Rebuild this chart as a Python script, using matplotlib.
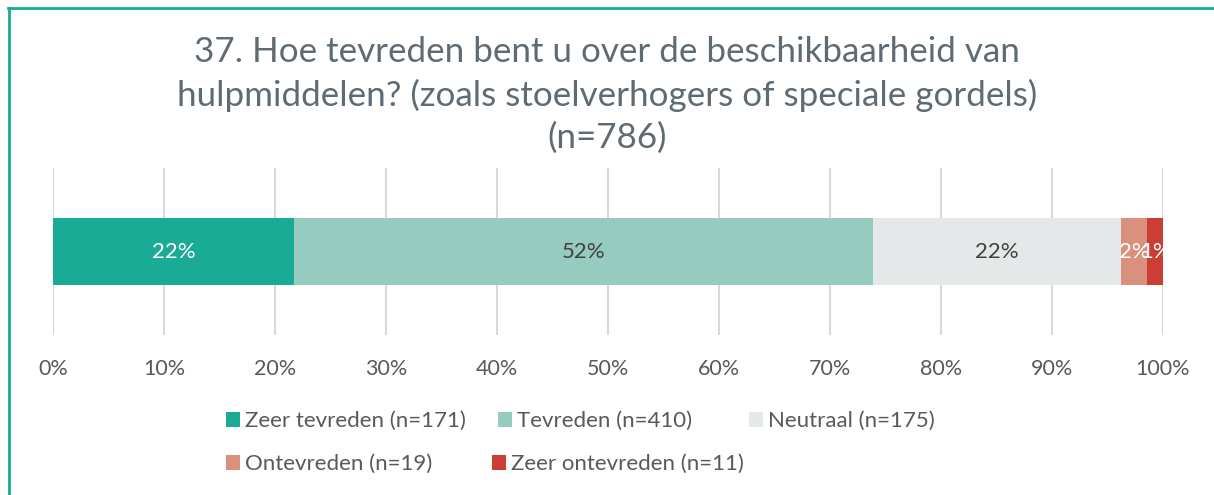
import matplotlib
matplotlib.use("Agg")
import matplotlib.pyplot as plt
from matplotlib.patches import Patch
from matplotlib.lines import Line2D

# ---- data
categories = ["Zeer tevreden", "Tevreden", "Neutraal", "Ontevreden", "Zeer ontevreden"]
counts     = [171, 410, 175, 19, 11]
colors     = ["#1AAB97", "#96CBC0", "#E5E8E8", "#D9917D", "#CC3D33"]
lbl_colors = ["white", "#404040", "#404040", "white", "white"]
xticks     = [0, 10, 20, 30, 40, 50, 60, 70, 80, 90, 100]
title      = ("37. Hoe tevreden bent u over de beschikbaarheid van\n"
              "hulpmiddelen? (zoals stoelverhogers of speciale gordels)\n"
              "(n=786)")

total = sum(counts)
shares = [100.0 * c / total for c in counts]

plt.rcParams['font.family'] = ['Lato', 'DejaVu Sans']

fig = plt.figure(figsize=(12.14, 4.95), dpi=100)
ax = fig.add_axes([53 / 1214, 1 - 335 / 495, 1110 / 1214, 167 / 495])

left = 0.0
for name, share, col, tc in zip(categories, shares, colors, lbl_colors):
    ax.barh(0, share, left=left, height=0.40, color=col, zorder=3)
    ax.text(left + share / 2, 0, "%d%%" % round(share), ha="center", va="center",
            fontsize=16, color=tc, zorder=4)
    left += share

ax.set_xlim(0, 100)
ax.set_ylim(-0.5, 0.5)
ax.set_xticks(xticks)
ax.set_xticklabels(["%d%%" % v for v in xticks], fontsize=15.5, color="#595959")
ax.set_yticks([])
ax.tick_params(axis="x", length=0, pad=17)
ax.grid(axis="x", color="#D9D9D9", linewidth=1.5, zorder=0)
for s in ax.spines.values():
    s.set_visible(False)

fig.text(0.5, 1 - 95 / 495, title, ha="center", va="center", fontsize=25.2,
         color="#5F6B73", linespacing=1.37)

# legend entries, two rows
legend_pos = [(226, 421), (498, 421), (749, 421), (226, 464), (492, 464)]
for name, n, col, (px, py) in zip(categories, counts, colors, legend_pos):
    h = Patch(facecolor=col, edgecolor="none")
    lg = fig.legend([h], ["%s (n=%d)" % (name, n)], loc="center left",
                    bbox_to_anchor=(px / 1214, 1 - py / 495), frameon=False,
                    fontsize=16, handlelength=0.65, handleheight=0.65,
                    handletextpad=0.2, borderpad=0, borderaxespad=0)
    for t in lg.get_texts():
        t.set_color("#595959")

# outer frame (top and left edges only)
fig.add_artist(Line2D([8 / 1214, 1], [1 - 7.5 / 495, 1 - 7.5 / 495],
                      color="#1AAB97", linewidth=2, transform=fig.transFigure))
fig.add_artist(Line2D([8.5 / 1214, 8.5 / 1214], [0, 1 - 7.5 / 495],
                      color="#1AAB97", linewidth=2, transform=fig.transFigure))

fig.savefig("out.png", dpi=100)
